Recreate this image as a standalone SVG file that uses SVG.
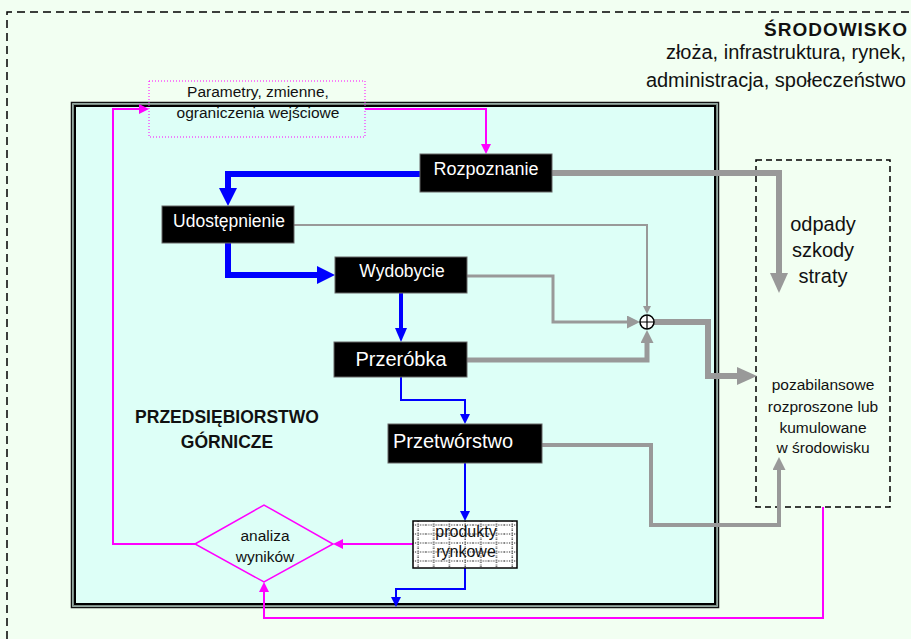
<svg xmlns="http://www.w3.org/2000/svg" width="911" height="639" viewBox="0 0 911 639">
<style>
text{font-family:"Liberation Sans",Arial,sans-serif;fill:#111}
.box{fill:#000;stroke:#666;stroke-width:1}
.bt{fill:#fff;text-anchor:middle}
.c{text-anchor:middle}
.r{text-anchor:end}
.b{font-weight:bold}
.mag{fill:none;stroke:#FF00FF;stroke-width:2}
.blu{fill:none;stroke:#0000FF}
.gry{fill:none;stroke:#999999}
</style>
<defs>
<marker id="bL" viewBox="0 0 10 10" refX="0" refY="5" markerUnits="userSpaceOnUse" markerWidth="18" markerHeight="18" orient="auto" preserveAspectRatio="none"><path d="M0,0L10,5L0,10z" fill="#0000FF"/></marker>
<marker id="bM" viewBox="0 0 10 10" refX="0" refY="5" markerUnits="userSpaceOnUse" markerWidth="14" markerHeight="12" orient="auto" preserveAspectRatio="none"><path d="M0,0L10,5L0,10z" fill="#0000FF"/></marker>
<marker id="bS" viewBox="0 0 10 10" refX="0" refY="5" markerUnits="userSpaceOnUse" markerWidth="10" markerHeight="10" orient="auto" preserveAspectRatio="none"><path d="M0,0L10,5L0,10z" fill="#0000FF"/></marker>
<marker id="gL" viewBox="0 0 10 10" refX="0" refY="5" markerUnits="userSpaceOnUse" markerWidth="20" markerHeight="18" orient="auto" preserveAspectRatio="none"><path d="M0,0L10,5L0,10z" fill="#999999"/></marker>
<marker id="gM" viewBox="0 0 10 10" refX="0" refY="5" markerUnits="userSpaceOnUse" markerWidth="13" markerHeight="13" orient="auto" preserveAspectRatio="none"><path d="M0,0L10,5L0,10z" fill="#999999"/></marker>
<marker id="gS" viewBox="0 0 10 10" refX="0" refY="5" markerUnits="userSpaceOnUse" markerWidth="8" markerHeight="8" orient="auto" preserveAspectRatio="none"><path d="M0,0L10,5L0,10z" fill="#999999"/></marker>
<marker id="mS" viewBox="0 0 10 10" refX="0" refY="5" markerUnits="userSpaceOnUse" markerWidth="10" markerHeight="10" orient="auto" preserveAspectRatio="none"><path d="M0,0L10,5L0,10z" fill="#FF00FF"/></marker>
<pattern id="grid" x="410" y="521" width="15.7" height="9" patternUnits="userSpaceOnUse">
<rect width="15.7" height="9" fill="#fff"/>
<line x1="8" y1="0" x2="8" y2="9" stroke="#000" stroke-width="1" stroke-dasharray="1 1.5"/>
<line x1="0" y1="4" x2="15.7" y2="4" stroke="#000" stroke-width="1" stroke-dasharray="1 1.5"/>
</pattern>
</defs>
<rect width="911" height="639" fill="#F2FFF2"/>
<g id="srodowisko">
<path d="M7,639V12H911" fill="none" stroke="#000" stroke-width="1.5" stroke-dasharray="8 5"/>
<text x="907" y="36" class="r b" font-size="19" textLength="143">ŚRODOWISKO</text>
<text x="906" y="59" class="r" font-size="20">złoża, infrastruktura, rynek,</text>
<text x="906" y="87" class="r" font-size="20">administracja, społeczeństwo</text>
</g>
<g id="przedsiebiorstwo">
<rect x="71.5" y="102.5" width="647" height="505" fill="#DDFFF7" stroke="#111" stroke-width="1.5"/>
<rect x="73.3" y="104.3" width="643.4" height="501.4" fill="none" stroke="#7a8a82" stroke-width="1.5"/>
<rect x="75" y="106" width="640" height="498" fill="none" stroke="#000" stroke-width="2"/>
<text x="227" y="423" class="c b" font-size="17.5">PRZEDSIĘBIORSTWO</text>
<text x="227" y="448" class="c b" font-size="17.5">GÓRNICZE</text>
</g>
<g id="odpady">
<rect x="756" y="160" width="134" height="347" fill="none" stroke="#000" stroke-width="1.5" stroke-dasharray="6 4"/>
<text x="823" y="231" class="c" font-size="20">odpady</text>
<text x="823" y="257" class="c" font-size="20">szkody</text>
<text x="823" y="283" class="c" font-size="20">straty</text>
<text x="823" y="390" class="c" font-size="15.5">pozabilansowe</text>
<text x="823" y="412" class="c" font-size="15.5">rozproszone lub</text>
<text x="823" y="433" class="c" font-size="15.5">kumulowane</text>
<text x="823" y="453" class="c" font-size="15.5">w środowisku</text>
</g>
<g id="parametry">
<rect x="149" y="81" width="216" height="56" fill="none" stroke="#FF00FF" stroke-width="1" stroke-dasharray="1 2"/>
<text x="258" y="97" class="c" font-size="15.5">Parametry, zmienne,</text>
<text x="258" y="118" class="c" font-size="15.5">ograniczenia wejściowe</text>
</g>
<g id="connectors">
<path class="mag" d="M365,109H486V144" marker-end="url(#mS)"/>
<path class="mag" d="M195,544H113V109H139" marker-end="url(#mS)"/>
<path class="mag" d="M413,544H343" marker-end="url(#mS)"/>
<path class="mag" d="M823,507V618H264V592" marker-end="url(#mS)"/>
<path class="blu" stroke-width="6" d="M420,174H228V188" marker-end="url(#bL)"/>
<path class="blu" stroke-width="6" d="M228,243V275H317" marker-end="url(#bL)"/>
<path class="blu" stroke-width="4" d="M401,293V328" marker-end="url(#bM)"/>
<path class="blu" stroke-width="2" d="M401,377V400H465V414" marker-end="url(#bS)"/>
<path class="blu" stroke-width="2" d="M465,463V511" marker-end="url(#bS)"/>
<path class="blu" stroke-width="2" d="M465,568V589H396V597" marker-end="url(#bS)"/>
<path class="gry" stroke-width="6" d="M552,173H779V273" marker-end="url(#gL)"/>
<path class="gry" stroke-width="2" d="M294,225H647V306" marker-end="url(#gS)"/>
<path class="gry" stroke-width="3" d="M467,276H553V322H627" marker-end="url(#gM)"/>
<path class="gry" stroke-width="5" d="M467,360H647V343" marker-end="url(#gM)"/>
<path class="gry" stroke-width="6" d="M654,322H708V376H737" marker-end="url(#gL)"/>
<path class="gry" stroke-width="4" d="M542,445H651V525H779V470" marker-end="url(#gM)"/>
</g>
<g id="sumator">
<circle cx="647" cy="322" r="7" fill="#fff" stroke="#000" stroke-width="1.5"/>
<path d="M640,322H654M647,315V329" stroke="#000" stroke-width="1.2"/>
</g>
<g id="rozpoznanie">
<rect class="box" x="420" y="154" width="132" height="38"/>
<text x="486" y="175" class="bt" font-size="18">Rozpoznanie</text>
</g>
<g id="udostepnienie">
<rect class="box" x="162" y="206" width="132" height="37"/>
<text x="229" y="227" class="bt" font-size="17.5">Udostępnienie</text>
</g>
<g id="wydobycie">
<rect class="box" x="335" y="257" width="132" height="36"/>
<text x="402" y="277" class="bt" font-size="17.5">Wydobycie</text>
</g>
<g id="przerobka">
<rect class="box" x="334" y="342" width="133" height="35"/>
<text x="401" y="366" class="bt" font-size="20">Przeróbka</text>
</g>
<g id="przetworstwo">
<rect class="box" x="388" y="424" width="154" height="39"/>
<text x="453" y="448" class="bt" font-size="20">Przetwórstwo</text>
</g>
<g id="produkty">
<rect x="413" y="521" width="104" height="47" fill="url(#grid)" stroke="#000" stroke-width="1.5"/>
<text x="466" y="537" class="c" font-size="16">produkty</text>
<text x="466" y="557" class="c" font-size="16">rynkowe</text>
</g>
<g id="analiza">
<path d="M195,544L264,505L333,544L264,582Z" fill="none" stroke="#FF00FF" stroke-width="1.5"/>
<text x="265" y="541" class="c" font-size="15.5">analiza</text>
<text x="265" y="562" class="c" font-size="15.5">wyników</text>
</g>
</svg>
